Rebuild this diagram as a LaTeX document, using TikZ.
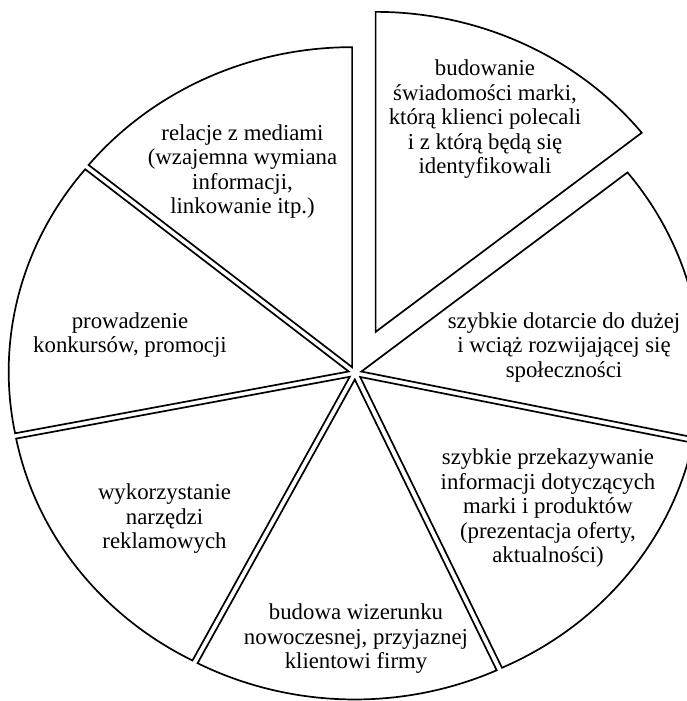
\documentclass[tikz,border=0pt]{standalone}
\usepackage{fontspec}
\setmainfont{Liberation Serif}
\usetikzlibrary{calc}

% one slice of the elliptic pie: name, bisector angle, push-out distance, start and end arc angles
\newcommand\pieslice[5]{%
  \coordinate (#1) at ($(C)+(#2:#3)$);
  \draw[slice] (#1) -- ++(#4:340pt and 320pt)
    arc[start angle=#4, end angle=#5, x radius=340pt, y radius=320pt] -- cycle;
}

\begin{document}
\begin{tikzpicture}[x=1pt, y=1pt,
  slice/.style={line width=1.7pt, line join=miter, black},
  label/.style={align=center, font=\fontsize{22.8}{24.5}\selectfont, inner sep=0pt}]
  \useasboundingbox (0,0) rectangle (687,701);
  \clip (0,0) rectangle (687,701);
  \coordinate (C) at (355,328);

  \pieslice{brand}{63.4}{46}{38.48}{90}
  \pieslice{reach}{12.8}{6.5}{-11.88}{38.48}
  \pieslice{news}{-37.6}{6.5}{-65.34}{-11.88}
  \pieslice{image}{-91.5}{6.5}{-117.55}{-65.34}
  \pieslice{ads}{-144.25}{6.5}{-168.86}{-117.55}
  \pieslice{contest}{166.5}{6.5}{140.81}{191.14}
  \pieslice{media}{116.25}{6.5}{90}{140.81}

  \node[label] (tbrand) at (485,581.5) {budowanie\\świadomości marki,\\którą klienci polecali\\i z którą będą się\\identyfikowali};
  \node[label] (tmedia) at (242.5,529.5) {relacje z mediami\\(wzajemna wymiana\\informacji,\\linkowanie itp.)};
  \node[label] (tcontest) at (130,366) {prowadzenie\\konkursów, promocji};
  \node[label] (treach) at (564,353.5) {szybkie dotarcie do dużej\\i wciąż rozwijającej się\\społeczności};
  \node[label] (tnews) at (548,192.6) {szybkie przekazywanie\\informacji dotyczących\\marki i produktów\\(prezentacja oferty,\\aktualności)};
  \node[label] (tads) at (164.5,182) {wykorzystanie\\narzędzi\\reklamowych};
  \node[label] (timage) at (356,62) {budowa wizerunku\\nowoczesnej, przyjaznej\\klientowi firmy};
\end{tikzpicture}
\end{document}
